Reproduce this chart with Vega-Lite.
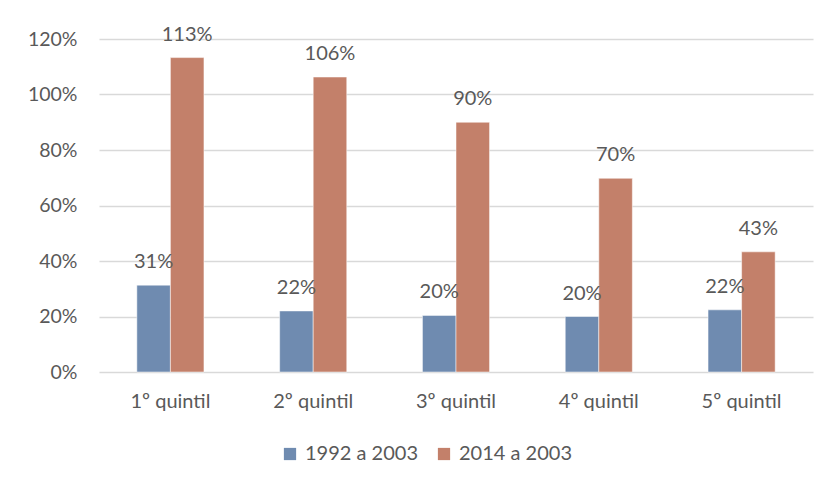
{
  "$schema": "https://vega.github.io/schema/vega-lite/v6.json",
  "autosize": "none",
  "width": 714,
  "height": 333,
  "padding": {"left": 99, "top": 39, "right": 19, "bottom": 111},
  "background": "white",
  "data": {
    "values": [
      {"quintil": "1º quintil", "serie": "1992 a 2003", "valor": 0.313},
      {"quintil": "2º quintil", "serie": "1992 a 2003", "valor": 0.22},
      {"quintil": "3º quintil", "serie": "1992 a 2003", "valor": 0.204},
      {"quintil": "4º quintil", "serie": "1992 a 2003", "valor": 0.2},
      {"quintil": "5º quintil", "serie": "1992 a 2003", "valor": 0.224},
      {"quintil": "1º quintil", "serie": "2014 a 2003", "valor": 1.133},
      {"quintil": "2º quintil", "serie": "2014 a 2003", "valor": 1.063},
      {"quintil": "3º quintil", "serie": "2014 a 2003", "valor": 0.9},
      {"quintil": "4º quintil", "serie": "2014 a 2003", "valor": 0.698},
      {"quintil": "5º quintil", "serie": "2014 a 2003", "valor": 0.433}
    ]
  },
  "encoding": {
    "x": {
      "field": "quintil", "type": "nominal", "sort": null,
      "scale": {"paddingInner": 0.53, "paddingOuter": 0.265},
      "axis": {"title": null, "labelAngle": 0, "ticks": false, "domain": false, "labelPadding": 19,
               "labelFont": "Lato", "labelFontSize": 20, "labelColor": "#595959"}
    },
    "xOffset": {"field": "serie", "type": "nominal", "scale": {"paddingInner": 0}},
    "y": {
      "field": "valor", "type": "quantitative",
      "scale": {"domain": [0, 1.2]},
      "axis": {"title": null, "format": ".0%", "values": [0, 0.2, 0.4, 0.6, 0.8, 1.0, 1.2],
               "ticks": false, "domain": false, "labelPadding": 22, "gridColor": "#d9d9d9", "gridWidth": 1.3,
               "labelFont": "Lato", "labelFontSize": 19.5, "labelColor": "#595959"}
    }
  },
  "layer": [
    {
      "mark": {"type": "bar", "stroke": "white", "strokeWidth": 0.5},
      "encoding": {
        "color": {
          "field": "serie", "type": "nominal",
          "scale": {"domain": ["1992 a 2003", "2014 a 2003"], "range": ["#6f8bb0", "#c3806a"]},
          "legend": {"title": null, "orient": "none", "direction": "horizontal", "legendX": 181, "legendY": 405,
                     "symbolType": "square", "symbolSize": 150, "symbolStrokeWidth": 0,
                     "labelFont": "Lato", "labelFontSize": 20, "labelColor": "#595959", "columnPadding": 16, "labelOffset": 5}
        }
      }
    },
    {
      "mark": {"type": "text", "baseline": "bottom", "dy": -13, "font": "Lato", "fontSize": 20, "color": "#595959"},
      "encoding": {"text": {"field": "valor", "type": "quantitative", "format": ".0%"}}
    }
  ],
  "config": {"view": {"stroke": null}}
}
